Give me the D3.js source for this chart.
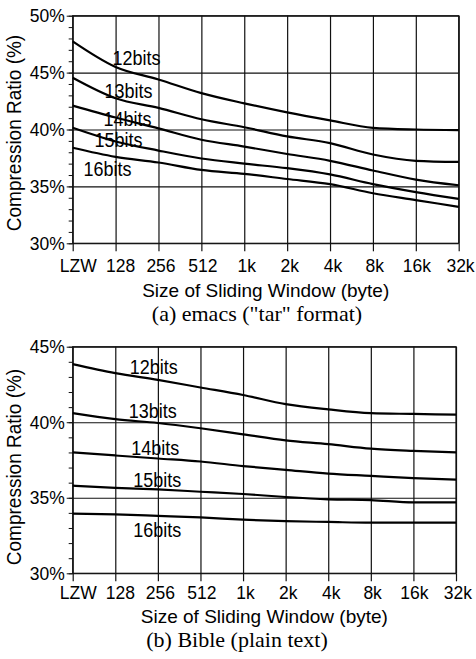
<!DOCTYPE html>
<html><head><meta charset="utf-8">
<script src="https://cdn.jsdelivr.net/npm/d3@7"></script>
<style>body{margin:0;background:#fff} svg{display:block}
text.st{transform-box:fill-box;transform-origin:center;transform:scaleY(1.1)}
</style>
</head><body><svg id="c" width="476" height="659"></svg>
<script>
// ---------- data ----------
const categories = ["LZW","128","256","512","1k","2k","4k","8k","16k","32k"];
const seriesNames = ["12bits","13bits","14bits","15bits","16bits"];

// (a) emacs ("tar" format)
const emacs12 = [47.75, 45.5, 44.4, 43.2, 42.3, 41.5, 40.8, 40.15, 40.0, 39.95];
const emacs13 = [44.55, 42.75, 41.9, 40.9, 40.2, 39.4, 38.8, 37.8, 37.25, 37.15];
const emacs14 = [42.1, 41.05, 40.1, 39.1, 38.5, 37.85, 37.25, 36.4, 35.6, 35.1];
const emacs15 = [40.15, 38.95, 38.15, 37.45, 37.0, 36.6, 36.05, 35.2, 34.5, 33.9];
const emacs16 = [38.4, 37.6, 37.1, 36.45, 36.1, 35.65, 35.2, 34.4, 33.8, 33.2];

// (b) Bible (plain text)
const bible12 = [43.85, 43.25, 42.8, 42.3, 41.8, 41.2, 40.85, 40.6, 40.55, 40.5];
const bible13 = [40.6, 40.2, 39.95, 39.6, 39.2, 38.8, 38.55, 38.25, 38.1, 38.0];
const bible14 = [38.0, 37.8, 37.6, 37.4, 37.1, 36.85, 36.6, 36.45, 36.3, 36.2];
const bible15 = [35.8, 35.65, 35.55, 35.4, 35.25, 35.05, 34.9, 34.85, 34.7, 34.7];
const bible16 = [33.95, 33.9, 33.8, 33.7, 33.55, 33.45, 33.4, 33.35, 33.35, 33.35];

const yTicksA = [30, 35, 40, 45, 50];
const yTicksB = [30, 35, 40, 45];
const xTitle = "Size of Sliding Window (byte)";
const yTitle = "Compression Ratio (%)";
const captionA = '(a) emacs ("tar" format)';
const captionB = '(b) Bible (plain text)';

// ---------- layout ----------
const SANS = "'Liberation Sans', Arial, Helvetica, sans-serif";
const SERIF = "'Liberation Serif', 'Times New Roman', serif";
const tickDx = [5, 4.5, 2, 1, 2, 2, 2.5, 1.3, 0.5, 1.3];
const INK = "#111";

const svg = d3.select("#c");

function drawPanel(cfg) {
  const g = svg.append("g");
  const x = d3.scalePoint().domain(categories).range([cfg.left, cfg.right]);
  const y = d3.scaleLinear().domain(cfg.yDomain).range([cfg.bottom, cfg.top]);
  const h = cfg.bottom - cfg.top, w = cfg.right - cfg.left;

  // vertical grid
  g.append("g").attr("transform", `translate(0,${cfg.bottom})`)
    .call(d3.axisBottom(x).tickSize(-h).tickFormat(""))
    .call(a => a.select(".domain").remove())
    .call(a => a.selectAll("line").attr("stroke", INK).attr("stroke-width", 1.2));
  // horizontal grid
  g.append("g").attr("transform", `translate(${cfg.left},0)`)
    .call(d3.axisLeft(y).tickValues(cfg.yTicks).tickSize(-w).tickFormat(""))
    .call(a => a.select(".domain").remove())
    .call(a => a.selectAll("line").attr("stroke", INK).attr("stroke-width", 1.1));

  // frame
  g.append("rect").attr("x", cfg.left).attr("y", cfg.top).attr("width", w).attr("height", h)
    .attr("fill", "none").attr("stroke", INK).attr("stroke-width", 1.2);

  // x axis ticks + labels
  const xa = g.append("g").attr("transform", `translate(0,${cfg.bottom})`)
    .call(d3.axisBottom(x).tickSize(8).tickPadding(cfg.xPad))
    .call(a => a.select(".domain").remove());
  xa.selectAll("line").attr("stroke", INK).attr("stroke-width", 1.2);
  xa.selectAll("text").attr("font-family", SANS).attr("font-size", 17.5).attr("fill", "#000")
    .attr("dx", (d, i) => tickDx[i]);

  // y minor ticks
  g.append("g").attr("transform", `translate(${cfg.left},0)`)
    .call(d3.axisLeft(y).ticks(cfg.yDomain[1] - cfg.yDomain[0]).tickSize(4).tickFormat(""))
    .call(a => a.select(".domain").remove())
    .call(a => a.selectAll("line").attr("stroke", INK));
  // y major ticks + labels
  const ya = g.append("g").attr("transform", `translate(${cfg.left},0)`)
    .call(d3.axisLeft(y).tickValues(cfg.yTicks).tickSize(6).tickPadding(2).tickFormat(d => d + "%"))
    .call(a => a.select(".domain").remove());
  ya.selectAll("line").attr("stroke", INK);
  ya.selectAll("text").attr("class", "st").attr("font-family", SANS).attr("font-size", 17.5).attr("fill", "#000");

  // lines
  const line = d3.line().x((d, i) => x(categories[i])).y(d => y(d)).curve(d3.curveMonotoneX);
  g.append("g").selectAll("path").data(cfg.series).join("path")
    .attr("d", line).attr("fill", "none").attr("stroke", "#000").attr("stroke-width", 2.2);

  // series labels
  g.append("g").selectAll("text").data(cfg.labels).join("text")
    .attr("class", "st")
    .attr("x", d => x(d.cat) + d.dx).attr("y", d => y(d.v))
    .attr("font-family", SANS).attr("font-size", 18).attr("fill", "#000")
    .text((d, i) => seriesNames[i]);

  // axis titles
  g.append("text").attr("x", (cfg.left + cfg.right) / 2).attr("y", cfg.xTitleY)
    .attr("text-anchor", "middle").attr("font-family", SANS).attr("font-size", 19)
    .text(xTitle);
  g.append("text").attr("transform", `translate(21,${cfg.yTitleC}) rotate(-90) scale(1,1.1)`)
    .attr("text-anchor", "middle").attr("font-family", SANS).attr("font-size", 19)
    .text(yTitle);
  g.append("text").attr("x", cfg.capX).attr("y", cfg.capY)
    .attr("text-anchor", "middle").attr("font-family", SERIF).attr("font-size", 22)
    .text(cfg.caption);
}

drawPanel({
  left: 72.7, right: 458.7, top: 15.7, bottom: 243.3, yDomain: [30, 50], yTicks: yTicksA,
  xPad: 8,
  series: [emacs12, emacs13, emacs14, emacs15, emacs16],
  labels: [
    {cat: "128", dx: -3, v: 45.7},
    {cat: "128", dx: -11, v: 42.84},
    {cat: "128", dx: -12, v: 40.4},
    {cat: "128", dx: -21, v: 38.5},
    {cat: "128", dx: -32, v: 35.98}
  ],
  xTitleY: 296.7, yTitleC: 133, capX: 257, capY: 321, caption: captionA
});

drawPanel({
  left: 72.7, right: 456, top: 346.7, bottom: 573.3, yDomain: [30, 45], yTicks: yTicksB,
  xPad: 5.6,
  series: [bible12, bible13, bible14, bible15, bible16],
  labels: [
    {cat: "128", dx: 14.5, v: 43.24},
    {cat: "128", dx: 13.5, v: 40.33},
    {cat: "128", dx: 16, v: 37.9},
    {cat: "128", dx: 18, v: 35.78},
    {cat: "128", dx: 18, v: 32.47}
  ],
  xTitleY: 622.5, yTitleC: 467, capX: 237, capY: 647, caption: captionB
});
</script></body></html>
